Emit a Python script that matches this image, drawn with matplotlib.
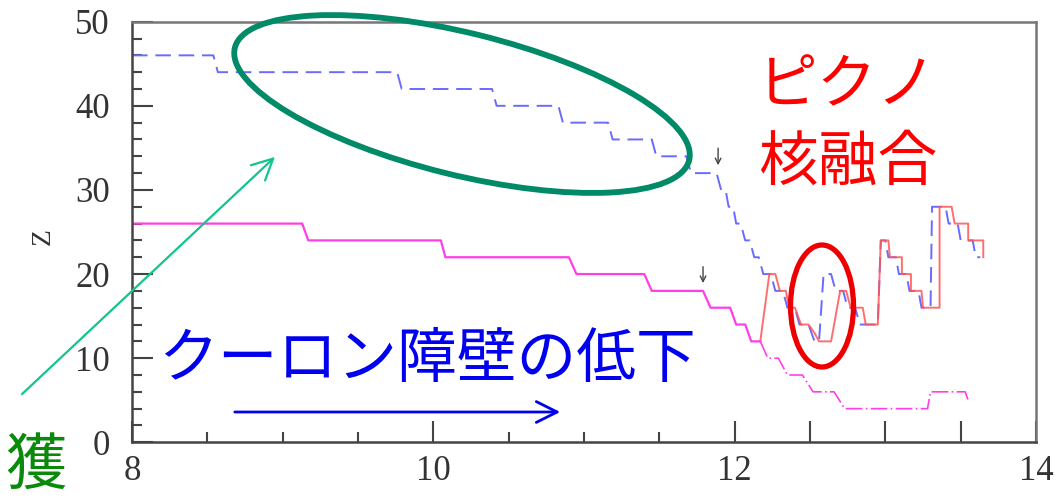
import matplotlib
matplotlib.use("Agg")
import matplotlib.pyplot as plt
from matplotlib.patches import Ellipse, FancyArrowPatch
from matplotlib.ticker import FixedLocator, MultipleLocator, FuncFormatter

#series (x = time-like axis, Z)
blue_x = [8.0, 8.54, 8.57, 9.76, 9.79, 10.39, 10.42, 10.83, 10.86, 11.16, 11.19, 11.45, 11.48,
          11.68, 11.71, 11.88, 11.91, 11.94, 11.96, 11.99, 12.01, 12.04, 12.07, 12.10, 12.13,
          12.16, 12.19, 12.24, 12.27, 12.32, 12.35, 12.40, 12.43, 12.49, 12.53, 12.56, 12.59,
          12.64, 12.67, 12.72, 12.75, 12.80, 12.83, 12.95, 12.97, 13.00, 13.02, 13.07, 13.09,
          13.14, 13.16, 13.22, 13.24, 13.30, 13.31, 13.40, 13.42, 13.48, 13.50, 13.58, 13.60, 13.63]
blue_z = [46, 46, 44, 44, 42, 42, 40, 40, 38, 38, 36, 36, 34,
          34, 32, 32, 30, 30, 28, 28, 26, 26, 24, 24, 22,
          22, 20, 20, 18, 18, 16, 16, 14, 14, 12, 12, 20,
          20, 18, 18, 16, 16, 14, 14, 24, 24, 22, 22, 20,
          20, 18, 18, 16, 16, 28, 28, 26, 26, 24, 24, 22, 22]

red_x = [12.17, 12.23, 12.27, 12.30, 12.34, 12.36, 12.40, 12.44, 12.49, 12.53, 12.56, 12.64,
         12.70, 12.74, 12.77, 12.85, 12.87, 12.95, 12.97, 13.02, 13.03, 13.11, 13.11, 13.17,
         13.17, 13.24, 13.25, 13.36, 13.36, 13.44, 13.46, 13.55, 13.55, 13.65, 13.65]
red_z = [12, 20, 20, 18, 18, 16, 16, 14, 14, 13, 12, 12,
         18, 18, 16, 16, 14, 14, 24, 24, 22, 22, 20, 20,
         18, 18, 16, 16, 28, 28, 26, 26, 24, 24, 22]

pink_x = [8.0, 9.13, 9.17, 10.05, 10.08, 10.90, 10.95, 11.40, 11.45, 11.79, 11.84, 11.97,
          12.01, 12.07, 12.11, 12.17, 12.22, 12.29, 12.35, 12.45, 12.52, 12.66, 12.73, 13.28,
          13.30, 13.53, 13.55]
pink_z = [26, 26, 24, 24, 22, 22, 20, 20, 18, 18, 16, 16,
          14, 14, 12, 12, 10, 10, 8, 8, 6, 6, 4, 4,
          6, 6, 5]
pink_split = 15

x_ticks = [8, 10, 12, 14]
y_ticks = [0, 10, 20, 30, 40, 50]

W, H = 1058, 498
plt.rcParams['font.family'] = ['Noto Sans CJK JP', 'DejaVu Sans']
fig = plt.figure(figsize=(W / 100, H / 100), dpi=100)
ax = fig.add_axes([132 / W, 1 - 442.3 / H, (1036 - 132) / W, (442.3 - 21.7) / H])

ax.plot(blue_x, blue_z, color='#6a6aff', lw=1.4, dashes=(8, 4))
ax.plot(red_x, red_z, color='#ff5555', lw=1.4, alpha=0.85)
ax.plot(pink_x[:pink_split + 1], pink_z[:pink_split + 1], color='#ff3ee6', lw=1.6)
ax.plot(pink_x[pink_split:], pink_z[pink_split:], color='#ff3ee6', lw=1.2, dashes=(10, 2, 1, 2))

#small arrows marking the start of the fall
ax.annotate('', xy=(11.89, 32.6), xytext=(11.89, 35.3),
            arrowprops=dict(arrowstyle='->', color='#444444', lw=1))
ax.annotate('', xy=(11.79, 18.6), xytext=(11.79, 21.2),
            arrowprops=dict(arrowstyle='->', color='#444444', lw=1))

ax.set_xlim(8, 14)
ax.set_ylim(0, 50)
ax.xaxis.set_major_locator(FixedLocator([8, 10, 12, 12.5, 13, 13.5, 14]))
ax.xaxis.set_major_formatter(FuncFormatter(lambda v, p: '%d' % v if v in x_ticks else ''))
ax.xaxis.set_minor_locator(FixedLocator([8.5, 9, 9.5, 10.5, 11, 11.5]))
ax.yaxis.set_major_locator(FixedLocator(y_ticks))
ax.yaxis.set_minor_locator(MultipleLocator(2))
ax.tick_params(which='both', direction='in', colors='#444444', width=1.5)
ax.tick_params(which='major', length=15)
ax.tick_params(which='minor', length=7.5)
ax.tick_params(axis='y', pad=16)
ax.tick_params(axis='x', pad=9)
for lab in ax.get_xticklabels() + ax.get_yticklabels():
    lab.set_family('Liberation Serif')
    lab.set_fontsize(25)
    lab.set_color('#333333')
for s in ['left', 'bottom']:
    ax.spines[s].set_color('#444444')
    ax.spines[s].set_linewidth(1.8)
for s in ['top', 'right']:
    ax.spines[s].set_color('#777777')
    ax.spines[s].set_linewidth(1.8)

fig.text(43 / W, 1 - 237 / H, 'Z', rotation=90, ha='center', va='center',
         family='Liberation Serif', fontsize=20, color='#333333')

#annotations drawn in figure inches
tr = fig.dpi_scale_trans
fig.add_artist(Ellipse((4.62, (H - 104) / 100), 4.68, 1.42, angle=-13.9, transform=tr,
                       fill=False, edgecolor='#008a68', lw=4.2))
fig.add_artist(Ellipse((8.22, (H - 306) / 100), 0.63, 1.22, transform=tr,
                       fill=False, edgecolor='#ee0000', lw=3.8))
fig.add_artist(FancyArrowPatch((0.20, (H - 396) / 100), (2.77, (H - 155) / 100), transform=tr,
                               arrowstyle='->,head_length=0.6,head_width=0.3', mutation_scale=25,
                               color='#12c490', lw=1.6))
fig.add_artist(FancyArrowPatch((2.32, (H - 412) / 100), (5.63, (H - 412) / 100), transform=tr,
                               arrowstyle='->,head_length=0.6,head_width=0.3', mutation_scale=25,
                               color='#0000ee', lw=2))

fig.text(158 / W, 1 - 360 / H, 'クーロン障壁の低下', ha='left', va='center',
         fontsize=43, color='#0000ee')
fig.text(758 / W, 1 - 87 / H, 'ピクノ', ha='left', va='center', fontsize=43, color='#ff0000')
fig.text(758 / W, 1 - 163 / H, '核融合', ha='left', va='center', fontsize=43, color='#ff0000')
fig.text(5 / W, 1 - 467 / H, '獲', ha='left', va='center', fontsize=44, color='#0a8a0a')

fig.savefig('out.png', dpi=100)
